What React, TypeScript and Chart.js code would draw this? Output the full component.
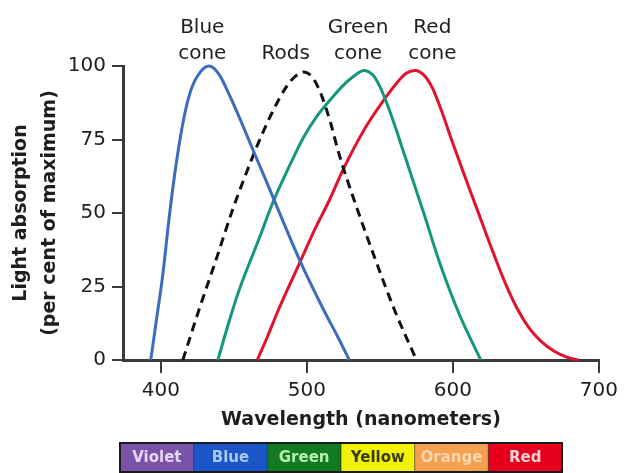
import React, { useEffect, useRef } from 'react';
import { Chart, registerables } from 'chart.js';

Chart.register(...registerables);

// Wavelength (nm), absorption (% of maximum)
const blueCone = [
  [393, 0], [397, 14], [401, 28], [406, 50], [410.5, 67], [416, 83], [421, 92.5], [427, 98], [433, 100],
  [440, 97], [447, 90], [455, 81], [463, 71.5], [472, 61], [480, 51.5], [495, 34], [512, 16.5], [521, 8], [529, 0],
];
const rods = [
  [415, 0], [426, 17], [437, 33], [449, 51], [458, 63], [466, 73], [476, 84], [486, 93], [492, 96.5], [498, 98],
  [504, 96], [510, 90], [516, 81], [522, 70], [534, 52], [547, 34], [560, 17], [575, 0],
];
const greenCone = [
  [439, 0], [446, 12], [453, 23], [467, 41], [477, 54], [488, 66], [498, 76], [507, 83], [516, 88.5], [524, 93],
  [532, 96.5], [539, 98.5], [545, 97], [550, 93], [555, 87], [560, 80], [568, 68], [580, 50], [591, 33], [604, 16],
  [619, 0],
];
const redCone = [
  [466, 0], [473, 8], [480, 16.5], [495, 33], [505, 44], [515, 54], [525, 65], [540, 79], [552, 88], [562, 94.5],
  [568, 97.5], [574, 98.5], [580, 97], [586, 92.5], [592, 85], [599, 75], [607, 64], [616, 52], [628, 36],
  [636, 26], [644, 17.5], [652, 11], [660, 6.5], [670, 2.8], [678, 1], [686, 0],
];

const xTicks = [400, 500, 600, 700];
const yTicks = [0, 25, 50, 75, 100];

const curveLabelTexts = [['Blue', 'cone'], ['Rods'], ['Green', 'cone'], ['Red', 'cone']];
const curveLabelX = [428.3, 485.5, 535, 585.9];

const bandLabels = ['Violet', 'Blue', 'Green', 'Yellow', 'Orange', 'Red'];
const bandColors = ['#7a52a8', '#1a56c8', '#127a22', '#f2f205', '#f4a04e', '#e6001e'];
const bandTextColors = ['#e6d6f6', '#a9c8f6', '#b4f0b0', '#3a3a10', '#ffd6ae', '#ffd2d8'];

const FONT = '"DejaVu Sans", sans-serif';
const TEXT = '#1e1e1e';
const AXIS = '#3a3a3a';

const toPts = (arr: number[][]) => arr.map(([x, y]) => ({ x, y }));

const overlayPlugin = {
  id: 'overlay',
  afterDraw(chart: any) {
    const { ctx, chartArea, scales } = chart;
    const xs = scales.x;
    ctx.save();
    // curve labels above the plot
    ctx.font = `20px ${FONT}`;
    ctx.fillStyle = TEXT;
    ctx.textAlign = 'center';
    ctx.textBaseline = 'middle';
    curveLabelTexts.forEach((lines, i) => {
      const px = xs.getPixelForValue(curveLabelX[i]);
      const n = lines.length;
      lines.forEach((t, j) => {
        ctx.fillText(t, px, chartArea.top - 12 - (n - 1 - j) * 26);
      });
    });
    // colour band
    const left = chartArea.left - 3;
    const width = 442;
    const top = 443;
    const h = 29;
    const w = width / bandLabels.length;
    bandLabels.forEach((lab, i) => {
      ctx.fillStyle = bandColors[i];
      ctx.fillRect(left + i * w, top, w, h);
    });
    ctx.strokeStyle = '#1a1a1a';
    ctx.lineWidth = 2;
    ctx.strokeRect(left, top, width, h);
    for (let i = 1; i < bandLabels.length; i++) {
      ctx.beginPath();
      ctx.moveTo(left + i * w, top);
      ctx.lineTo(left + i * w, top + h);
      ctx.lineWidth = 1;
      ctx.strokeStyle = 'rgba(0,0,0,0.5)';
      ctx.stroke();
    }
    ctx.font = `bold 15px ${FONT}`;
    bandLabels.forEach((lab, i) => {
      ctx.fillStyle = bandTextColors[i];
      ctx.fillText(lab, left + i * w + w / 2, top + h / 2 + 1);
    });
    ctx.restore();
  },
};

export default function App() {
  const ref = useRef<HTMLCanvasElement>(null);
  useEffect(() => {
    if (!ref.current) return;
    const line = (data: number[][], color: string, dash: number[] = []) => ({
      data: toPts(data),
      borderColor: color,
      borderWidth: 3,
      borderDash: dash,
      pointRadius: 0,
      fill: false,
      cubicInterpolationMode: 'monotone' as const,
      clip: false as any,
    });
    const chart = new Chart(ref.current, {
      type: 'line',
      data: {
        datasets: [
          line(blueCone, '#3b6cc2'),
          line(rods, '#111111', [9, 6]),
          line(greenCone, '#14977a'),
          line(redCone, '#e2122f'),
        ],
      },
      options: {
        animation: false,
        responsive: false,
        layout: { padding: { left: 0, right: 20, top: 66, bottom: 42 } },
        plugins: { legend: { display: false }, tooltip: { enabled: false } },
        scales: {
          x: {
            type: 'linear',
            min: 374,
            max: 700,
            afterBuildTicks: (s: any) => { s.ticks = xTicks.map((v) => ({ value: v })); },
            afterFit: (s: any) => { s.height = 71; },
            grid: { display: true, drawOnChartArea: false, drawTicks: true, tickLength: 13, color: AXIS, lineWidth: 2 },
            border: { display: true, color: AXIS, width: 3 },
            ticks: { color: TEXT, font: { family: FONT, size: 20 }, padding: 6, maxRotation: 0 },
            title: {
              display: true,
              text: 'Wavelength (nanometers)',
              color: TEXT,
              font: { family: FONT, size: 19, weight: 'bold' },
              padding: { top: 0, bottom: 0 },
            },
          },
          y: {
            type: 'linear',
            min: 0,
            max: 100,
            afterBuildTicks: (s: any) => { s.ticks = yTicks.map((v) => ({ value: v })); },
            afterFit: (s: any) => { s.width = 123; },
            grid: { display: true, drawOnChartArea: false, drawTicks: true, tickLength: 11, color: AXIS, lineWidth: 2 },
            border: { display: true, color: AXIS, width: 3 },
            ticks: { color: TEXT, font: { family: FONT, size: 20 }, padding: 6 },
            title: {
              display: true,
              text: ['Light absorption', '(per cent of maximum)'],
              color: TEXT,
              font: { family: FONT, size: 19, weight: 'bold', lineHeight: 1.55 },
              padding: { top: 6, bottom: 0 },
            },
          },
        },
      },
      plugins: [overlayPlugin],
    });
    return () => chart.destroy();
  }, []);
  return (
    <div style={{ position: 'absolute', left: 0, top: 0, width: 624, height: 473, background: '#fff' }}>
      <canvas ref={ref} width={624} height={473} style={{ display: 'block' }} />
    </div>
  );
}
